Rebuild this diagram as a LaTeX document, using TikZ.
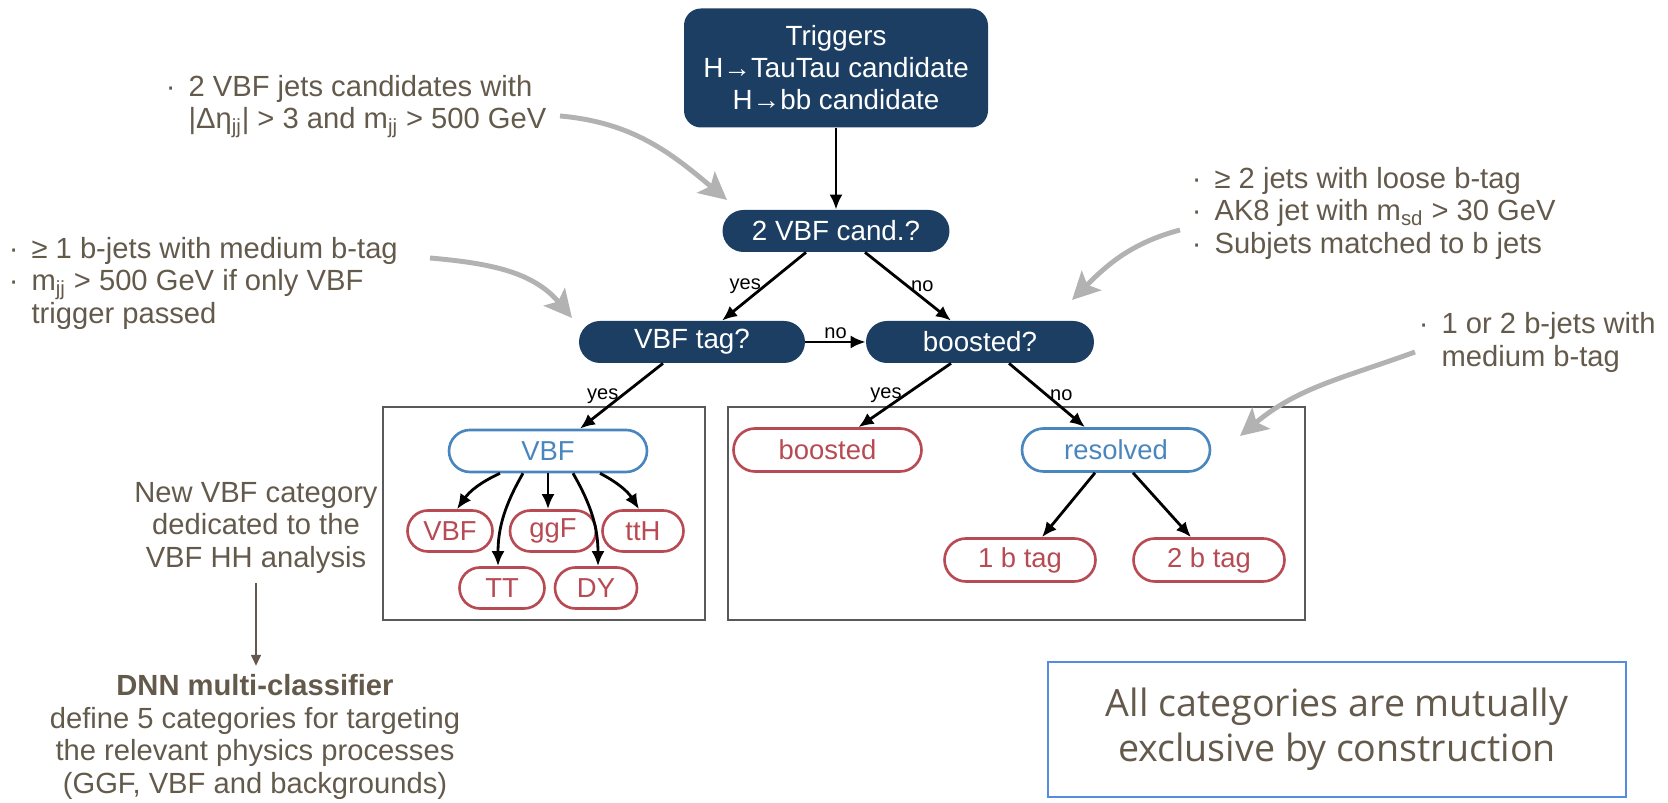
\documentclass[tikz,border=0pt]{standalone}
\usepackage{fontspec}
\setmainfont{Liberation Sans}
\newfontfamily\opensans{Open Sans}
\usetikzlibrary{arrows.meta,positioning,shapes.misc}
\definecolor{navy}{RGB}{27,62,98}
\definecolor{catred}{RGB}{183,74,82}
\definecolor{catblue}{RGB}{74,134,190}
\definecolor{notecol}{RGB}{100,90,76}
\definecolor{hint}{RGB}{178,178,178}
\definecolor{frameblue}{RGB}{86,140,224}

\begin{document}
\begin{tikzpicture}[every node/.style={inner sep=2pt},
 ask/.style={rounded rectangle,fill=navy,text=white,minimum height=0.84cm,font=\fontsize{15.8}{18.2}\selectfont},
 cat/.style={rounded rectangle,draw=catred,line width=1.5pt,text=catred,minimum height=0.82cm,font=\fontsize{15.6}{18.2}\selectfont},
 subcat/.style={cat,draw=catblue,text=catblue},
 flow/.style={-{Latex[length=3mm,width=2.6mm]},line width=1.6pt},
 yn/.style={font=\fontsize{11.4}{13}\selectfont,inner sep=1pt},
 frame/.style={draw=black!65,line width=0.8pt},
 note/.style={text=notecol,font=\fontsize{16.6}{18.5}\selectfont},
 hintarr/.style={-{Stealth[length=5.5mm,width=5.5mm,inset=1.2mm]},draw=hint,line width=2.8pt},
 notearr/.style={-{Triangle[length=2.2mm,width=2mm]},draw=notecol,line width=0.9pt}]
\useasboundingbox (0,0) rectangle (33.36,16.06);
% decision chain
\node[fill=navy,text=white,rounded corners=0.34cm,minimum width=6.08cm,minimum height=2.38cm,align=center,font=\fontsize{15.8}{18.2}\selectfont] (trig) at (16.72,14.70) {Triggers\\H→TauTau candidate\\H→bb candidate};
\node[ask,minimum width=4.68cm] (vbfq) at (16.72,11.44) {2 VBF cand.?};
\node[ask,minimum width=4.66cm] (tagq) at (13.84,9.22) {VBF tag?};
\node[ask,minimum width=4.70cm] (boostq) at (19.60,9.22) {boosted?};
\draw[flow] (trig.south) -- (vbfq.north);
\draw[flow] ([xshift=-0.6cm]vbfq.south) -- node[yn,left]{yes} ([xshift=0.6cm]tagq.north);
\draw[flow] ([xshift=0.58cm]vbfq.south) -- node[yn,right]{no} ([xshift=-0.58cm]boostq.north);
\draw[flow] (tagq.east) -- node[yn,above]{no} (boostq.west);
% VBF categories
\draw[frame] (7.66,7.92) rectangle (14.10,3.66);
\node[subcat,minimum width=4.1cm,minimum height=0.84cm] (vbfp) at (10.96,7.04) {VBF};
\foreach \n/\t/\x/\y/\w in {vs/VBF/9.00/5.44/1.84, gg/ggF/11.06/5.44/1.86, tth/ttH/12.86/5.44/1.76, tt/TT/10.04/4.30/1.84, dy/DY/11.92/4.30/1.78}
 \node[cat,minimum width=\w cm] (\n) at (\x,\y) {\t};
\draw[flow] ([xshift=-0.58cm]tagq.south) -- node[yn,left]{yes} ([xshift=0.64cm]vbfp.north);
\draw[flow] ([xshift=-0.96cm]vbfp.south) to[bend right=15] ([xshift=0.14cm]vs.north);
\draw[flow] ([xshift=-0.5cm]vbfp.south) to[out=-120,in=90] ([xshift=-0.08cm]tt.north);
\draw[flow] (vbfp.south) -- (vbfp.south |- gg.north);
\draw[flow] ([xshift=0.5cm]vbfp.south) to[out=-60,in=90] ([xshift=0.04cm]dy.north);
\draw[flow] ([xshift=1.04cm]vbfp.south) to[bend left=15] ([xshift=-0.08cm]tth.north);
% boosted / resolved
\draw[frame] (14.56,7.92) rectangle (26.10,3.66);
\node[cat,minimum width=3.9cm,minimum height=0.86cm] (bstp) at (16.55,7.06) {boosted};
\node[subcat,minimum width=3.9cm,minimum height=0.86cm] (resp) at (22.32,7.06) {resolved};
\node[cat,minimum width=3.16cm,minimum height=0.86cm] (b1) at (20.40,4.86) {1 b tag};
\node[cat,minimum width=3.16cm,minimum height=0.86cm] (b2) at (24.18,4.86) {2 b tag};
\draw[flow] ([xshift=-0.58cm]boostq.south) -- node[yn,left]{yes} ([xshift=0.62cm]bstp.north);
\draw[flow] ([xshift=0.58cm]boostq.south) -- node[yn,right]{no} ([xshift=-0.62cm]resp.north);
\draw[flow] ([xshift=-0.42cm]resp.south) -- ([xshift=0.44cm]b1.north);
\draw[flow] ([xshift=0.34cm]resp.south) -- ([xshift=-0.36cm]b2.north);
% selection notes
\node[note,anchor=base west] (c1) at (3.24,14.13) {\begin{tabular}[t]{@{}l@{\hspace{0.26cm}}l@{}}·&2 VBF jets candidates with\\&|Δη\textsubscript{jj}| > 3 and m\textsubscript{jj} > 500 GeV\end{tabular}};
\node[note,anchor=base west] (c2) at (0.10,10.89) {\begin{tabular}[t]{@{}l@{\hspace{0.26cm}}l@{}}·&≥ 1 b-jets with medium b-tag\\·&m\textsubscript{jj} > 500 GeV if only VBF\\&trigger passed\end{tabular}};
\node[note,anchor=base west] (c3) at (23.76,12.29) {\begin{tabular}[t]{@{}l@{\hspace{0.26cm}}l@{}}·&≥ 2 jets with loose b-tag\\·&AK8 jet with m\textsubscript{sd} > 30 GeV\\·&Subjets matched to b jets\end{tabular}};
\node[note,anchor=base west] (c4) at (28.30,9.38) {\begin{tabular}[t]{@{}l@{\hspace{0.26cm}}l@{}}·&1 or 2 b-jets with\\&medium b-tag\end{tabular}};
\coordinate (h1s) at (11.20,13.74); \coordinate (h1e) at (14.54,12.06);
\coordinate (h2s) at (8.60,10.90); \coordinate (h2e) at (11.44,9.70);
\coordinate (h3s) at (23.60,11.46); \coordinate (h3e) at (21.44,10.06);
\coordinate (h4s) at (28.30,9.02); \coordinate (h4e) at (24.80,7.34);
\draw[hintarr] (h1s) to[out=-5,in=140] (h1e);
\draw[hintarr] (h2s) to[out=-5,in=130] (h2e);
\draw[hintarr] (h3s) to[out=195,in=45] (h3e);
\draw[hintarr] (h4s) to[out=200,in=40] (h4e);
% DNN remark
\node[note,align=center] (newcat) at (5.12,5.50) {New VBF category\\dedicated to the\\VBF HH analysis};
\node[note,align=center] (dnn) at (5.10,1.32) {\textbf{DNN multi-classifier}\\define 5 categories for targeting\\the relevant physics processes\\(GGF, VBF and backgrounds)};
\draw[notearr,shorten <=0.12cm,shorten >=0.1cm] (newcat.south) -- (newcat.south |- dnn.north);
\node[draw=frameblue,line width=1.2pt,minimum width=11.55cm,minimum height=2.7cm,align=center,text=notecol,font=\opensans\fontsize{21.4}{25.6}\selectfont] (excl) at (26.74,1.47) {All categories are mutually\\exclusive by construction};
\end{tikzpicture}
\end{document}
